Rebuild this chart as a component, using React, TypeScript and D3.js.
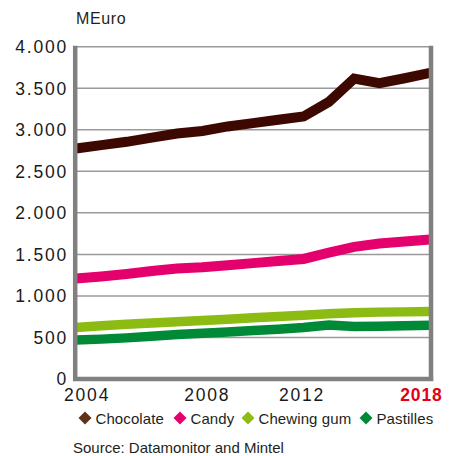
import React from "react";
import * as d3 from "d3";

const years = [2004, 2005, 2006, 2007, 2008, 2009, 2010, 2011, 2012, 2013, 2014, 2015, 2016, 2017, 2018];
const chocolate = [2775, 2815, 2855, 2905, 2955, 2985, 3040, 3080, 3120, 3160, 3335, 3615, 3560, 3620, 3685];
const candy = [1210, 1235, 1265, 1300, 1330, 1345, 1370, 1395, 1420, 1445, 1520, 1590, 1630, 1655, 1680];
const chewingGum = [620, 640, 658, 675, 690, 705, 720, 738, 752, 768, 785, 798, 805, 808, 812];
const pastilles = [470, 480, 495, 515, 535, 550, 565, 585, 600, 620, 650, 632, 636, 640, 648];

const yTicks = [0, 500, 1000, 1500, 2000, 2500, 3000, 3500, 4000];
const xTickLabels = ["2004", "2008", "2012", "2018"];
// positions of the x labels on the year scale (placed loosely in the original)
const xTickAt = [2004.4, 2009.15, 2012.9, 2017.62];

const seriesNames = ["Chocolate", "Candy", "Chewing gum", "Pastilles"];
const lineColors = ["#3c0800", "#e4006d", "#8cbb13", "#008a37"];
const legendColors = ["#5c3317", "#e4006d", "#8cbb13", "#008a37"];
const seriesData = [chocolate, candy, chewingGum, pastilles];

const FONT = "'Liberation Sans', Arial, Helvetica, sans-serif";

export default function App() {
  const x = d3.scaleLinear().domain([2004, 2018]).range([76, 430]);
  const y = d3.scaleLinear().domain([0, 4000]).range([379, 46.7]);
  const fmt = (v: number) => d3.format(",")(v).replace(/,/g, ".");

  const line = d3
    .line<number>()
    .x((_, i) => x(years[i]))
    .y((d) => y(d))
    .curve(d3.curveLinear);

  const legendX = [85, 180, 248, 366];

  return (
    <svg
      width={454}
      height={456}
      style={{ position: "absolute", left: 0, top: 0, background: "#fff" }}
      fontFamily={FONT}
    >
      <rect x={0} y={0} width={454} height={456} fill="#fff" />
      <text x={76} y={24} fontSize={16} fill="#231f20" letterSpacing={0.6}>
        MEuro
      </text>

      {yTicks.map((t) =>
        t > 0 ? (
          <line key={"g" + t} x1={76} x2={431} y1={y(t)} y2={y(t)} stroke="#9a9a9a" strokeWidth={1.5} />
        ) : null
      )}

      {seriesData.map((s, i) => (
        <path
          key={seriesNames[i]}
          d={line(s) || ""}
          fill="none"
          stroke={lineColors[i]}
          strokeWidth={i < 2 ? 10 : 9.5}
          strokeLinejoin="miter"
          strokeLinecap="butt"
        />
      ))}

      <line x1={75.2} x2={75.2} y1={y(4000) - 1} y2={y(0) + 2} stroke="#808080" strokeWidth={4.5} />
      <line x1={431} x2={431} y1={y(4000) - 1} y2={y(0) + 2} stroke="#808080" strokeWidth={4.5} />
      <line x1={73} x2={433.2} y1={y(0)} y2={y(0)} stroke="#808080" strokeWidth={4.5} />

      {yTicks.map((t) => (
        <text
          key={"yl" + t}
          x={68}
          y={y(t)}
          dy="0.36em"
          textAnchor="end"
          fontSize={17.5}
          letterSpacing={1.8}
          fill="#1a1a1a"
        >
          {fmt(t)}
        </text>
      ))}

      {xTickLabels.map((l, i) => (
        <text
          key={"xl" + l}
          x={x(xTickAt[i]) + 1}
          y={401}
          textAnchor="middle"
          fontSize={17.5}
          letterSpacing={i === 3 ? 0.8 : 1.8}
          fontWeight={i === 3 ? "bold" : "normal"}
          fill={i === 3 ? "#e2001a" : "#1a1a1a"}
        >
          {l}
        </text>
      ))}

      {seriesNames.map((n, i) => (
        <g key={"lg" + n}>
          <path
            d={`M${legendX[i]},${418 - 6.5} L${legendX[i] + 6.5},418 L${legendX[i]},${418 + 6.5} L${legendX[i] - 6.5},418 Z`}
            fill={legendColors[i]}
          />
          <text x={legendX[i] + 10.5} y={423.5} fontSize={15} fill="#231f20" letterSpacing={0.1}>
            {n}
          </text>
        </g>
      ))}

      <text x={73} y={453} fontSize={15} fill="#231f20" letterSpacing={0}>
        Source: Datamonitor and Mintel
      </text>
    </svg>
  );
}
